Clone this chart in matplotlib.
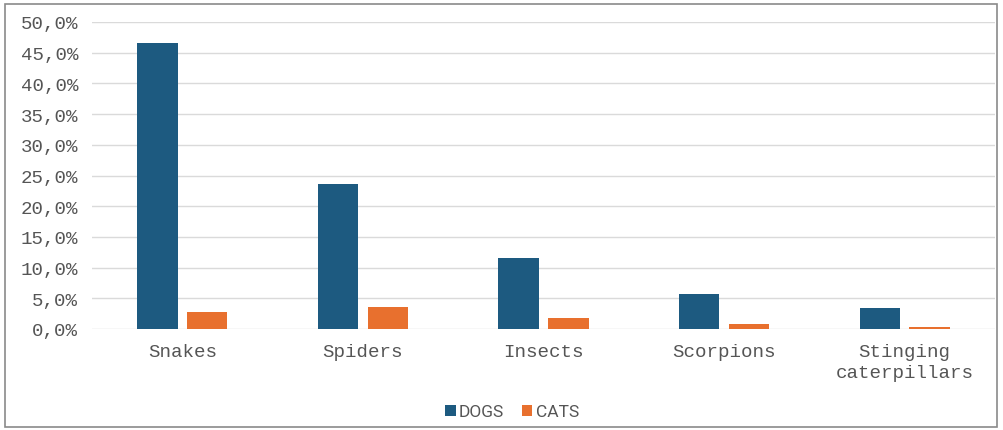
import matplotlib
matplotlib.use("Agg")
import matplotlib.pyplot as plt
from matplotlib.patches import Rectangle
from matplotlib.ticker import FuncFormatter
import numpy as np

categories = ["Snakes", "Spiders", "Insects", "Scorpions", "Stinging\ncaterpillars"]
dogs = [46.5, 23.6, 11.6, 5.7, 3.4]
cats = [2.8, 3.6, 1.8, 0.8, 0.3]
series_names = ["DOGS", "CATS"]
colors = ["#1d5a80", "#e8702e"]

W, H = 1004, 431
fig = plt.figure(figsize=(W / 100, H / 100), dpi=100)
ax = fig.add_axes([92 / W, 1 - 330 / H, (995 - 92) / W, (330 - 23) / H])

x = np.arange(len(categories))
bw = 0.224
ax.bar(x - 0.138, dogs, width=bw, color=colors[0], label=series_names[0], zorder=3)
ax.bar(x + 0.138, cats, width=bw, color=colors[1], label=series_names[1], zorder=3)

ax.set_xlim(-0.5, len(categories) - 0.5)
ax.set_ylim(0, 50)
ax.set_yticks(np.arange(0, 50.1, 5))
ax.yaxis.set_major_formatter(FuncFormatter(lambda v, p: f"{v:.1f}%".replace(".", ",")))
ax.set_xticks(x)
ax.set_xticklabels(categories, linespacing=1.35)
ax.grid(axis="y", color="#dadada", linewidth=1, zorder=0)
for s in ax.spines.values():
    s.set_visible(False)
ax.tick_params(axis="both", length=0, labelsize=13.8, labelcolor="#555555")
ax.tick_params(axis="y", pad=10)
ax.tick_params(axis="x", pad=10)
for lab in ax.get_xticklabels() + ax.get_yticklabels():
    lab.set_family("Liberation Mono")

leg = fig.legend(loc="center", bbox_to_anchor=(512 / W, 1 - 413 / H), ncol=2, frameon=False,
                 prop={"family": "Roboto", "size": 12.5}, handlelength=0.6, handleheight=0.6,
                 handletextpad=0.2, columnspacing=1.0)
for t in leg.get_texts():
    t.set_color("#555555")

fig.patches.append(Rectangle((5 / W, 1 - 428 / H), 992 / W, 423 / H, transform=fig.transFigure,
                             fill=False, edgecolor="#8a8a8a", linewidth=1.2))

fig.savefig("out.png", dpi=100)
